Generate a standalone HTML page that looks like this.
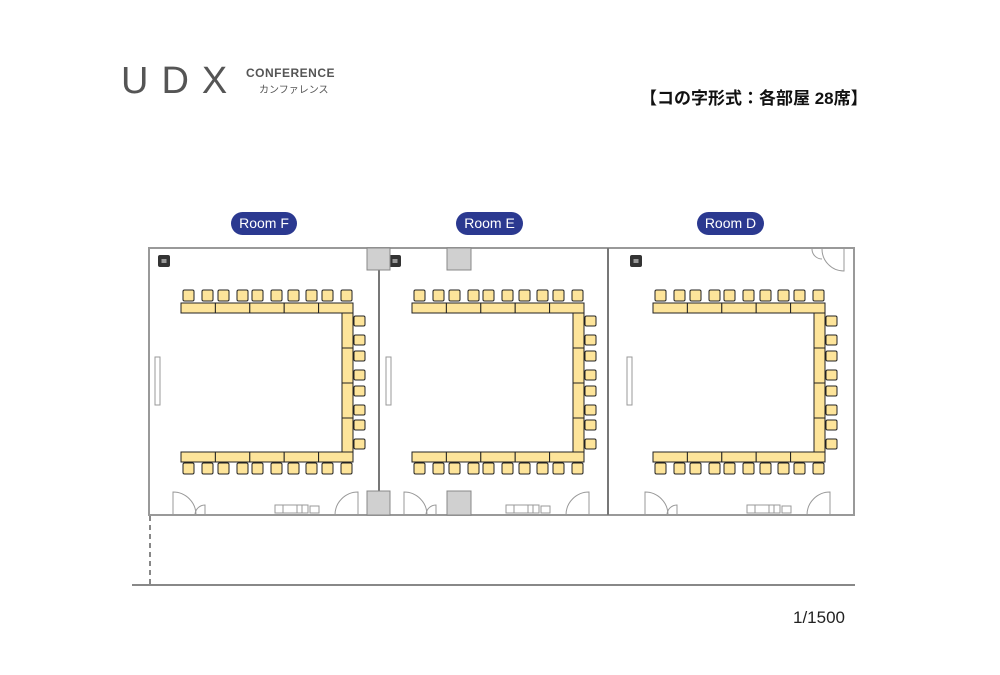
<!DOCTYPE html>
<html><head><meta charset="utf-8"><style>
body{margin:0;width:1000px;height:670px;background:#fff;overflow:hidden;font-family:"Liberation Sans","Noto Sans CJK JP",sans-serif}
</style></head><body>
<svg width="1000" height="670" viewBox="0 0 1000 670" xmlns="http://www.w3.org/2000/svg">
<defs>
<g id="room">
  <g fill="#fde49a" stroke="#222" stroke-width="1">
    <rect x="183" y="290" width="11" height="11" rx="1.5"/><rect x="202" y="290" width="11" height="11" rx="1.5"/>
    <rect x="218" y="290" width="11" height="11" rx="1.5"/><rect x="237" y="290" width="11" height="11" rx="1.5"/>
    <rect x="252" y="290" width="11" height="11" rx="1.5"/><rect x="271" y="290" width="11" height="11" rx="1.5"/>
    <rect x="288" y="290" width="11" height="11" rx="1.5"/><rect x="306" y="290" width="11" height="11" rx="1.5"/>
    <rect x="322" y="290" width="11" height="11" rx="1.5"/><rect x="341" y="290" width="11" height="11" rx="1.5"/>
    <rect x="183" y="463" width="11" height="11" rx="1.5"/><rect x="202" y="463" width="11" height="11" rx="1.5"/>
    <rect x="218" y="463" width="11" height="11" rx="1.5"/><rect x="237" y="463" width="11" height="11" rx="1.5"/>
    <rect x="252" y="463" width="11" height="11" rx="1.5"/><rect x="271" y="463" width="11" height="11" rx="1.5"/>
    <rect x="288" y="463" width="11" height="11" rx="1.5"/><rect x="306" y="463" width="11" height="11" rx="1.5"/>
    <rect x="322" y="463" width="11" height="11" rx="1.5"/><rect x="341" y="463" width="11" height="11" rx="1.5"/>
    <rect x="354" y="316" width="11" height="10" rx="1.5"/><rect x="354" y="335" width="11" height="10" rx="1.5"/>
    <rect x="354" y="351" width="11" height="10" rx="1.5"/><rect x="354" y="370" width="11" height="10" rx="1.5"/>
    <rect x="354" y="386" width="11" height="10" rx="1.5"/><rect x="354" y="405" width="11" height="10" rx="1.5"/>
    <rect x="354" y="420" width="11" height="10" rx="1.5"/><rect x="354" y="439" width="11" height="10" rx="1.5"/>
    <rect x="181" y="303" width="34.4" height="10"/><rect x="215.4" y="303" width="34.4" height="10"/>
    <rect x="249.8" y="303" width="34.4" height="10"/><rect x="284.2" y="303" width="34.4" height="10"/>
    <rect x="318.6" y="303" width="34.4" height="10"/>
    <rect x="342" y="313" width="11" height="35"/><rect x="342" y="348" width="11" height="35"/>
    <rect x="342" y="383" width="11" height="35"/><rect x="342" y="418" width="11" height="34"/>
    <rect x="181" y="452" width="34.4" height="10"/><rect x="215.4" y="452" width="34.4" height="10"/>
    <rect x="249.8" y="452" width="34.4" height="10"/><rect x="284.2" y="452" width="34.4" height="10"/>
    <rect x="318.6" y="452" width="34.4" height="10"/>
  </g>
  <rect x="158" y="255" width="12" height="12" rx="2" fill="#333"/>
  <rect x="161.5" y="259" width="5" height="4" fill="#999"/>
  <rect x="155" y="357" width="5" height="48" fill="#fff" stroke="#999" stroke-width="1"/>
  <g fill="none" stroke="#999" stroke-width="1">
    <path d="M173 515 V492 A23 23 0 0 1 196 515"/>
    <path d="M195 515 A10 10 0 0 1 205 505 V515"/>
    <path d="M358 515 V492 A23 23 0 0 0 335 515"/>
    <rect x="275" y="505" width="33" height="8"/><line x1="283" y1="505" x2="283" y2="513"/><line x1="297" y1="505" x2="297" y2="513"/><line x1="302" y1="505" x2="302" y2="513"/>
    <rect x="310" y="506" width="9" height="7"/>
  </g>
</g>
</defs>

<text x="121" y="93" font-size="38" fill="#555" letter-spacing="13" font-family="Liberation Sans, sans-serif">UDX</text>
<text x="246" y="77" font-size="12" font-weight="bold" fill="#555" letter-spacing="0.5">CONFERENCE</text>
<text x="259" y="93" font-size="10" fill="#555">カンファレンス</text>
<text x="640" y="104" font-size="17" font-weight="bold" fill="#111">【コの字形式：各部屋 28席】</text>

<g font-size="14" fill="#fff" text-anchor="middle">
  <rect x="231" y="212" width="66" height="23" rx="11.5" fill="#2b3990"/><text x="264" y="228">Room F</text>
  <rect x="456" y="212" width="67" height="23" rx="11.5" fill="#2b3990"/><text x="489.5" y="228">Room E</text>
  <rect x="697" y="212" width="67" height="23" rx="11.5" fill="#2b3990"/><text x="730.5" y="228">Room D</text>
</g>

<g fill="none" stroke="#999" stroke-width="2">
  <rect x="149" y="248" width="705" height="267"/>
  <line x1="379" y1="248" x2="379" y2="515" stroke="#777"/>
  <line x1="608" y1="248" x2="608" y2="515" stroke="#777"/>
</g>

<use href="#room"/>
<use href="#room" x="231"/>
<use href="#room" x="472"/>

<g fill="#d0d0d0" stroke="#888" stroke-width="1">
  <rect x="367" y="248" width="23" height="22"/><rect x="447" y="248" width="24" height="22"/>
  <rect x="367" y="491" width="23" height="24"/><rect x="447" y="491" width="24" height="24"/>
</g>
<path d="M844 249 V271 A22 22 0 0 1 822 249" fill="none" stroke="#999"/>
<path d="M822 259 A10 10 0 0 1 812 249" fill="none" stroke="#999"/>

<line x1="132" y1="585" x2="855" y2="585" stroke="#888" stroke-width="2"/>
<line x1="150" y1="516" x2="150" y2="585" stroke="#888" stroke-width="2" stroke-dasharray="5,4"/>

<text x="845" y="623" font-size="17" fill="#222" text-anchor="end">1/1500</text>
</svg>
</body></html>
